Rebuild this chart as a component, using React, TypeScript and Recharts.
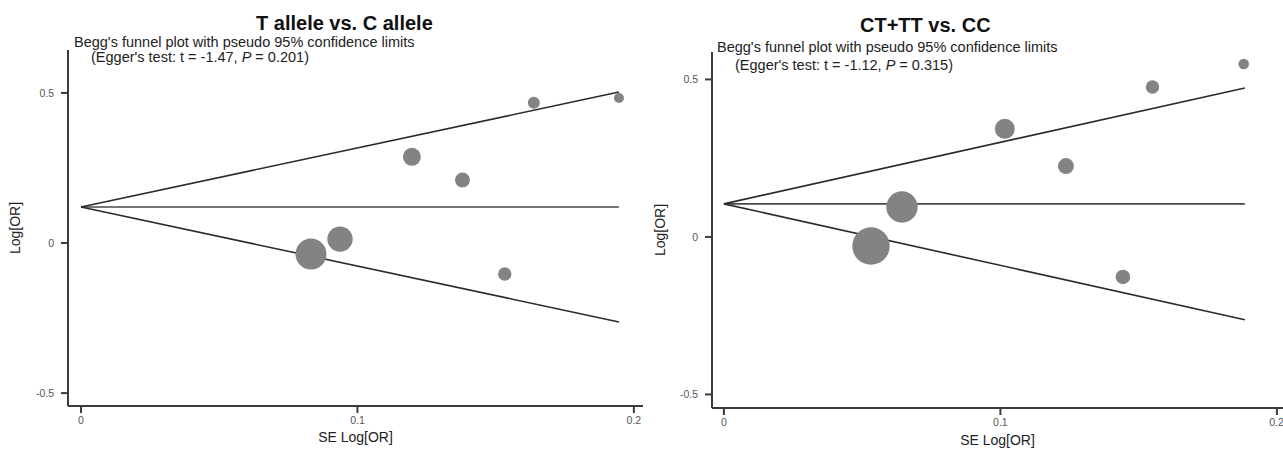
import { ScatterChart, Scatter, XAxis, YAxis, ZAxis } from "recharts";

// T allele vs. C allele
const leftSE = [0.0832, 0.0937, 0.1197, 0.138, 0.1533, 0.1638, 0.1946];
const leftLogOR = [-0.037, 0.013, 0.287, 0.21, -0.103, 0.467, 0.483];
const leftWeight = [240, 161, 81, 56, 45, 36, 25];
const leftFunnelSE = [0, 0.1946];
const leftUpper = [0.12, 0.503];
const leftLower = [0.12, -0.263];
const leftCenter = [0.12, 0.12];

// CT+TT vs. CC
const rightSE = [0.0532, 0.0644, 0.1016, 0.1237, 0.1443, 0.155, 0.188];
const rightLogOR = [-0.029, 0.095, 0.343, 0.225, -0.127, 0.476, 0.549];
const rightWeight = [350, 246, 100, 64, 53, 45, 28];
const rightFunnelSE = [0, 0.1884];
const rightUpper = [0.105, 0.473];
const rightLower = [0.105, -0.263];
const rightCenter = [0.105, 0.105];

const xTicks = [0, 0.1, 0.2];
const yTicks = [-0.5, 0, 0.5];

const FONT = '"Liberation Sans", Arial, sans-serif';
const AXIS = "#3c3c3c";

const toPoints = (xs: number[], ys: number[], ws?: number[]) =>
  xs.map((x, i) => ({ x, y: ys[i], w: ws ? ws[i] : 0 }));

const fmt = (v: number) => String(v);

interface PanelProps {
  width: number;
  yAxisWidth: number;
  marginTop: number;
  marginRight: number;
  marginBottom: number;
  xDomain: [number, number];
  yDomain: [number, number];
  yLabelOffset: number;
  xLabelOffset: number;
  se: number[];
  logOR: number[];
  weight: number[];
  funnelSE: number[];
  upper: number[];
  lower: number[];
  center: number[];
}

function FunnelPanel(p: PanelProps) {
  const lineStyle = { stroke: "#2b2b2b", strokeWidth: 1.6 };
  return (
    <ScatterChart
      width={p.width}
      height={458}
      margin={{ top: p.marginTop, right: p.marginRight, bottom: p.marginBottom, left: 0 }}
    >
      <XAxis
        type="number"
        dataKey="x"
        domain={p.xDomain}
        allowDataOverflow
        ticks={xTicks}
        tickFormatter={fmt}
        height={40}
        tickSize={7}
        tickMargin={4}
        stroke={AXIS}
        strokeWidth={2}
        tick={{ fontSize: 10.5, fill: "#555" }}
        label={{ value: "SE Log[OR]", position: "insideBottom", offset: p.xLabelOffset, fontSize: 14, fill: "#222" }}
      />
      <YAxis
        type="number"
        dataKey="y"
        domain={p.yDomain}
        allowDataOverflow
        ticks={yTicks}
        tickFormatter={fmt}
        width={p.yAxisWidth}
        tickSize={7}
        tickMargin={7}
        stroke={AXIS}
        strokeWidth={2}
        tick={{ fontSize: 10.5, fill: "#555" }}
        label={{
          value: "Log[OR]",
          angle: -90,
          position: "insideLeft",
          offset: p.yLabelOffset,
          fontSize: 14,
          fill: "#222",
          style: { textAnchor: "middle" },
        }}
      />
      <ZAxis type="number" dataKey="w" domain={[0, 400]} range={[0, 400 * Math.PI]} />
      <Scatter
        data={toPoints(p.funnelSE, p.center)}
        line={{ stroke: "#4a4a4a", strokeWidth: 1.6 }}
        shape={() => <g />}
        isAnimationActive={false}
      />
      <Scatter
        data={toPoints(p.funnelSE, p.upper)}
        line={lineStyle}
        shape={() => <g />}
        isAnimationActive={false}
      />
      <Scatter
        data={toPoints(p.funnelSE, p.lower)}
        line={lineStyle}
        shape={() => <g />}
        isAnimationActive={false}
      />
      <Scatter
        data={toPoints(p.se, p.logOR, p.weight)}
        fill="#838383"
        shape="circle"
        isAnimationActive={false}
      />
    </ScatterChart>
  );
}

export default function App() {
  return (
    <div
      style={{
        position: "absolute",
        left: 0,
        top: 0,
        width: 1283,
        height: 458,
        background: "#fff",
        fontFamily: FONT,
        overflow: "hidden",
      }}
    >
      <div style={{ position: "absolute", left: 0, top: 0 }}>
        <FunnelPanel
          width={660}
          yAxisWidth={68}
          marginTop={50}
          marginRight={17}
          marginBottom={12}
          xDomain={[-0.0047, 0.2033]}
          yDomain={[-0.543, 0.643]}
          yLabelOffset={15}
          xLabelOffset={4}
          se={leftSE}
          logOR={leftLogOR}
          weight={leftWeight}
          funnelSE={leftFunnelSE}
          upper={leftUpper}
          lower={leftLower}
          center={leftCenter}
        />
      </div>
      <div style={{ position: "absolute", left: 640, top: 0 }}>
        <FunnelPanel
          width={643}
          yAxisWidth={72}
          marginTop={52}
          marginRight={0}
          marginBottom={10}
          xDomain={[-0.0043, 0.2022]}
          yDomain={[-0.543, 0.587]}
          yLabelOffset={20}
          xLabelOffset={3}
          se={rightSE}
          logOR={rightLogOR}
          weight={rightWeight}
          funnelSE={rightFunnelSE}
          upper={rightUpper}
          lower={rightLower}
          center={rightCenter}
        />
      </div>
      <svg
        width={1283}
        height={458}
        style={{ position: "absolute", left: 0, top: 0, pointerEvents: "none" }}
      >
        <g fontFamily={FONT}>
          <text x={256} y={30} fontSize={20} fontWeight="bold" fill="#111">
            T allele vs. C allele
          </text>
          <text x={74} y={47} fontSize={14.5} fill="#222">
            Begg's funnel plot with pseudo 95% confidence limits
          </text>
          <text x={91} y={62} fontSize={14.5} fill="#222">
            (Egger's test: t = -1.47, <tspan fontStyle="italic">P</tspan> = 0.201)
          </text>
          <text x={860} y={32} fontSize={20} fontWeight="bold" fill="#111">
            CT+TT vs. CC
          </text>
          <text x={717} y={52} fontSize={14.5} fill="#222">
            Begg's funnel plot with pseudo 95% confidence limits
          </text>
          <text x={735} y={70} fontSize={14.5} fill="#222">
            (Egger's test: t = -1.12, <tspan fontStyle="italic">P</tspan> = 0.315)
          </text>
        </g>
      </svg>
    </div>
  );
}
